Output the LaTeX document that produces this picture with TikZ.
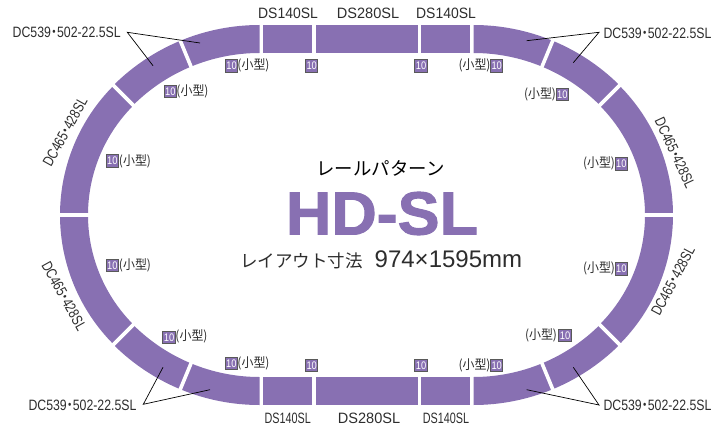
\documentclass[tikz,border=0pt]{standalone}
\usepackage{graphicx}
\usepackage{fontspec}
\setmainfont{Liberation Sans}
\newfontfamily\cjk{Noto Sans CJK JP}
\newfontfamily\heavy[BoldFeatures={FakeBold=1.6}]{Liberation Sans}
\definecolor{railpurple}{RGB}{136,112,178}
\definecolor{inkgrey}{RGB}{45,45,45}
\newcommand{\railseg}[6]{\fill[railfill] ({#1+#3*cos(#5)},{#2+#3*sin(#5)}) arc[start angle=#5,end angle=#6,radius=#3] -- ({#1+#4*cos(#6)},{#2+#4*sin(#6)}) arc[start angle=#6,end angle=#5,radius=#4] -- cycle;}
\newcommand{\railgap}[5]{\draw[gapline] ({#1+#3*cos(#5)},{#2+#3*sin(#5)}) -- ({#1+#4*cos(#5)},{#2+#4*sin(#5)});}
\newcommand{\nkdot}{\hspace{-3.8pt}{\cjk ・}\hspace{-3.8pt}}
\newcommand{\longlbl}{\scalebox{0.82}[1]{DC539\nkdot 502-22.5SL}}
\newcommand{\sidelbl}{\scalebox{0.78}[1]{DC465\nkdot 428SL}}
\newcommand{\kogata}{\scalebox{0.92}[1]{\cjk (小型)}}
\newcommand{\tennum}{\scalebox{0.85}[1]{10}}
\tikzset{
  railfill/.style={fill=railpurple},
  gapline/.style={draw=white,line width=3.6pt},
  badge/.style={fill=railpurple,draw=black!65,line width=1pt,minimum size=12.5pt,inner sep=0pt,text=white,font=\fontsize{11}{11}\selectfont},
  sizetag/.style={text=inkgrey,inner sep=0pt,font=\fontsize{13}{13}\selectfont},
  partlbl/.style={text=inkgrey,inner sep=0pt,font=\fontsize{15}{15}\selectfont},
  leader/.style={draw=black,line width=0.7pt},
}
\begin{document}
\begin{tikzpicture}[x=1pt,y=-1pt]
\useasboundingbox (0,0) rectangle (715,428);
% curves, top left
\railseg{243}{215}{183}{155}{180}{225}
\railseg{259.5}{232}{207}{179}{225}{270}
% top right
\railseg{490}{215}{183}{155}{315}{360}
\railseg{473.5}{232}{207}{179}{270}{315}
% bottom left
\railseg{243}{215}{183}{155}{135}{180}
\railseg{259.5}{198}{207}{179}{90}{135}
% bottom right
\railseg{490}{215}{183}{155}{0}{45}
\railseg{473.5}{198}{207}{179}{45}{90}
% straights
\fill[railfill] (262.7,25) rectangle (312,53);
\fill[railfill] (316,25) rectangle (418,53);
\fill[railfill] (421,25) rectangle (470,53);
\fill[railfill] (262.7,377) rectangle (312,405);
\fill[railfill] (316,377) rectangle (418,405);
\fill[railfill] (421,377) rectangle (470,405);
% joints
\draw[gapline] (56,215) -- (92,215);
\draw[gapline] (641,215) -- (677,215);
\railgap{243}{215}{186}{152}{225}
\railgap{259.5}{232}{210}{176}{247.5}
\railgap{490}{215}{186}{152}{315}
\railgap{473.5}{232}{210}{176}{292.5}
\railgap{243}{215}{186}{152}{135}
\railgap{259.5}{198}{210}{176}{112.5}
\railgap{490}{215}{186}{152}{45}
\railgap{473.5}{198}{210}{176}{67.5}
% straight labels
\node[partlbl] (dst1) at (288,13) {\scalebox{0.93}[1]{DS140SL}};
\node[partlbl] (dst2) at (368,13) {\scalebox{0.97}[1]{DS280SL}};
\node[partlbl] (dst3) at (446,13) {\scalebox{0.93}[1]{DS140SL}};
\node[partlbl] (dsb1) at (287.7,418) {\scalebox{0.72}[1]{DS140SL}};
\node[partlbl] (dsb2) at (369,418) {\scalebox{0.97}[1]{DS280SL}};
\node[partlbl] (dsb3) at (446,418) {\scalebox{0.72}[1]{DS140SL}};
% curve labels
\node[partlbl] (lTL) at (66.7,32.7) {\longlbl};
\node[partlbl] (lTR) at (657.5,33) {\longlbl};
\node[partlbl] (lBL) at (82.5,405) {\longlbl};
\node[partlbl] (lBR) at (657.5,405) {\longlbl};
\node[partlbl,rotate=61] (sTL) at (65,132) {\sidelbl};
\node[partlbl,rotate=-65] (sTR) at (675,153) {\sidelbl};
\node[partlbl,rotate=-61] (sBL) at (64,296) {\sidelbl};
\node[partlbl,rotate=62] (sBR) at (673,281) {\sidelbl};
% leaders
\coordinate (aTL) at (127.3,32.3);
\coordinate (aTR) at (599,32.3);
\coordinate (aBL) at (143.3,404.3);
\coordinate (aBR) at (599,405);
\coordinate (eTL1) at (200,43);
\coordinate (eTL2) at (153,65.7);
\coordinate (eTR1) at (526.7,40.7);
\coordinate (eTR2) at (573.3,62.7);
\coordinate (eBL1) at (210,389.7);
\coordinate (eBL2) at (163,367.3);
\coordinate (eBR1) at (526.7,389.7);
\coordinate (eBR2) at (573.3,367.3);
\draw[leader] (eTL1) -- (aTL) -- (eTL2);
\draw[leader] (eTR1) -- (aTR) -- (eTR2);
\draw[leader] (eBL1) -- (aBL) -- (eBL2);
\draw[leader] (eBR1) -- (aBR) -- (eBR2);
% badges and tags
\node[badge] (b1) at (231.5,65.8) {\tennum};
\node[sizetag] (t1) at (253.5,65) {\kogata};
\node[badge] (b2) at (311.7,65.8) {\tennum};
\node[badge] (b3) at (421,65.8) {\tennum};
\node[badge] (b4) at (496.7,65.8) {\tennum};
\node[sizetag] (t4) at (474.5,65) {\kogata};
\node[badge] (b5) at (170.3,91.7) {\tennum};
\node[sizetag] (t5) at (192.5,91) {\kogata};
\node[badge] (b6) at (562.3,94.7) {\tennum};
\node[sizetag] (t6) at (540,94) {\kogata};
\node[badge] (b7) at (112.3,161) {\tennum};
\node[sizetag] (t7) at (135,161) {\kogata};
\node[badge] (b8) at (621.3,164) {\tennum};
\node[sizetag] (t8) at (599,163.5) {\kogata};
\node[badge] (b9) at (112.3,265.3) {\tennum};
\node[sizetag] (t9) at (135,265) {\kogata};
\node[badge] (b10) at (621.3,269) {\tennum};
\node[sizetag] (t10) at (599,268.5) {\kogata};
\node[badge] (b11) at (169,337.3) {\tennum};
\node[sizetag] (t11) at (191.5,336.5) {\kogata};
\node[badge] (b12) at (565,335.7) {\tennum};
\node[sizetag] (t12) at (541,335) {\kogata};
\node[badge] (b13) at (231.3,363.3) {\tennum};
\node[sizetag] (t13) at (253.5,363) {\kogata};
\node[badge] (b14) at (311.7,365.7) {\tennum};
\node[badge] (b15) at (421,365.7) {\tennum};
\node[badge] (b16) at (496.7,365.7) {\tennum};
\node[sizetag] (t16) at (474.5,365) {\kogata};
% centre
\node[inner sep=0pt,text=black,font=\fontsize{18.4}{19}\selectfont\cjk] (cap) at (380.5,168) {レールパターン};
\node[inner sep=0pt,text=railpurple,font=\fontsize{61}{61}\selectfont\heavy\bfseries] (title) at (382,213.5) {\scalebox{1.03}[1]{HD-SL}};
\node[inner sep=0pt,text=inkgrey,anchor=base west] (dim) at (240,267) {{\fontsize{17.5}{18}\selectfont\cjk レイアウト寸法}\hspace{12pt}{\fontsize{24}{24}\selectfont 974×1595mm}};
\end{tikzpicture}
\end{document}
